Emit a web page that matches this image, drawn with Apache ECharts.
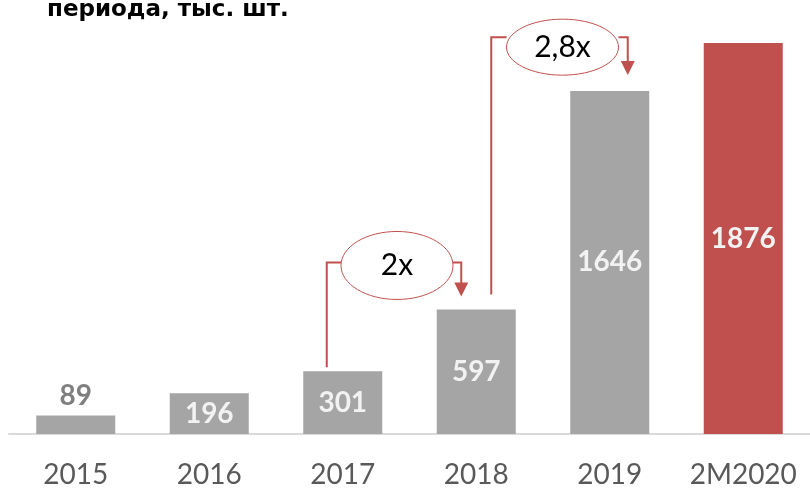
<!DOCTYPE html>
<html>
<head>
<meta charset="utf-8">
<script src="https://cdn.jsdelivr.net/npm/echarts@6/dist/echarts.min.js"></script>
<style>
  html, body { margin: 0; padding: 0; background: #fff; }
  #chart { width: 810px; height: 489px; }
</style>
</head>
<body>
<div id="chart"></div>
<script>
// data
const categories = ["2015", "2016", "2017", "2018", "2019", "2M2020"];
const values = [89, 196, 301, 597, 1646, 1876];
const highlightIndex = 5;
const titleText = "периода, тыс. шт.";

// growth callouts: from bar, to bar, text, connector level (axis value)
const growthFrom = [2, 3];
const growthTo = [3, 4];
const growthText = ["2x", "2,8x"];
const growthLevel = [823, 1904];

const GRAY = "#a5a5a5";
const RED = "#c0504d";

const chart = echarts.init(document.getElementById("chart"), null, { renderer: "canvas" });

const barData = values.map((v, i) => {
  const item = { value: v, itemStyle: { color: i === highlightIndex ? RED : GRAY } };
  if (i === 0) {
    item.label = { position: "top", color: "#7f7f7f", distance: 5 };
  }
  return item;
});

chart.setOption({
  animation: false,
  grid: { left: 9, top: 43, bottom: 54, width: 806 },
  xAxis: {
    type: "category",
    data: categories,
    axisLine: { lineStyle: { color: "#d9d9d9", width: 2 } },
    axisTick: { show: false },
    axisLabel: { interval: 0, color: "#595959", fontFamily: "Lato", fontSize: 28, margin: 27 }
  },
  yAxis: {
    type: "value",
    min: 0,
    max: 1876,
    show: false,
    splitLine: { show: false }
  },
  series: [{
    type: "bar",
    data: barData,
    barWidth: 79,
    label: {
      show: true,
      position: "inside",
      color: "#f2f2f2",
      fontFamily: "Lato",
      fontWeight: "bold",
      fontSize: 28
    }
  }]
});

// build the callouts from the axis scales
const extra = [{
  type: "text",
  x: 47,
  y: 22,
  style: { text: titleText, fill: "#000", font: "bold 23px 'DejaVu Sans'", verticalAlign: "bottom" }
}];
growthText.forEach((txt, k) => {
  const f = growthFrom[k], t = growthTo[k];
  const fromPt = chart.convertToPixel({ seriesIndex: 0 }, [f, values[f]]);
  const toPt = chart.convertToPixel({ seriesIndex: 0 }, [t, values[t]]);
  const levelY = chart.convertToPixel({ yAxisIndex: 0 }, growthLevel[k]);
  const x1 = fromPt[0] + (k === 0 ? -16 : 15);
  const x2 = toPt[0] + (k === 0 ? -15 : 18);
  const y1 = fromPt[1] - (k === 0 ? 4 : 15);
  const tipY = toPt[1] - (k === 0 ? 13 : 16);
  const cx = (x1 + x2) / 2 + 3;
  const ry = k === 0 ? 34 : 28;
  const cy = levelY + (k === 0 ? 3 : 10);
  const rx = 56;
  const lineStyle = { stroke: RED, lineWidth: 2, fill: null };
  extra.push({
    type: "polyline",
    shape: { points: [[x1, y1], [x1, levelY], [cx - rx, levelY]] },
    style: lineStyle
  });
  extra.push({
    type: "polyline",
    shape: { points: [[cx + rx, levelY], [x2, levelY], [x2, tipY - 12]] },
    style: lineStyle
  });
  extra.push({
    type: "polygon",
    shape: { points: [[x2 - 7, tipY - 14], [x2 + 7, tipY - 14], [x2, tipY]] },
    style: { fill: RED }
  });
  extra.push({
    type: "ellipse",
    shape: { cx: cx, cy: cy, rx: rx, ry: ry },
    style: { stroke: RED, lineWidth: 1, fill: "#fff" }
  });
  extra.push({
    type: "text",
    x: cx,
    y: cy,
    style: {
      text: txt, fill: "#000", font: "30px Lato",
      align: "center", verticalAlign: "middle"
    }
  });
});

chart.setOption({ graphic: extra });
</script>
</body>
</html>
